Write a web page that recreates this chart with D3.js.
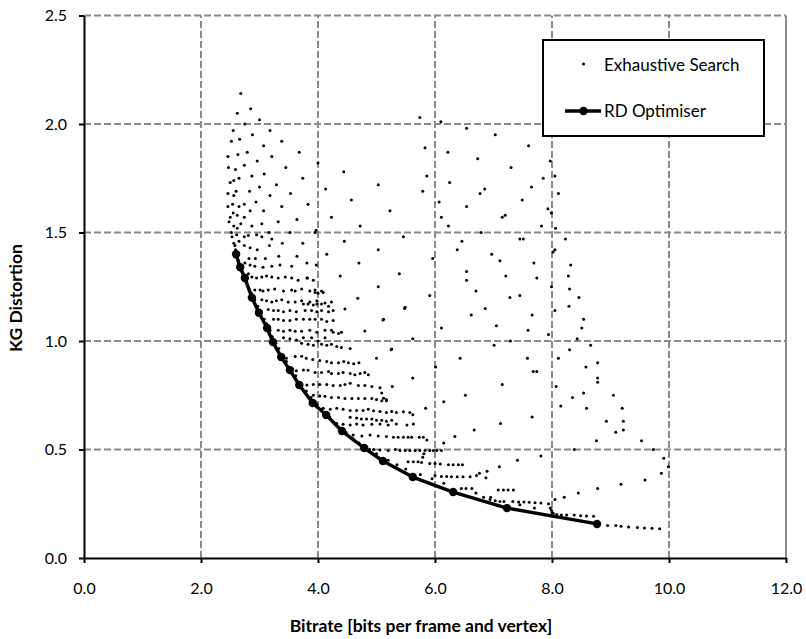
<!DOCTYPE html>
<html>
<head>
<meta charset="utf-8">
<script src="https://cdn.jsdelivr.net/npm/d3@7"></script>
<style>
  body { margin: 0; background: #fff; }
  svg { display: block; }
  text { font-family: Lato, "Open Sans", sans-serif; fill: #000; }
</style>
</head>
<body>
<svg id="chart" width="806" height="639"></svg>
<script>
// ---- RD Optimiser operating points (bitrate, KG distortion) ----
const rdBitrate = [2.60, 2.67, 2.75, 2.87, 2.99, 3.13, 3.23, 3.37, 3.52, 3.68, 3.91, 4.14, 4.41, 4.79, 5.11, 5.62, 6.31, 7.23, 8.77];
const rdDistortion = [1.40, 1.34, 1.29, 1.20, 1.13, 1.06, 0.995, 0.926, 0.866, 0.797, 0.714, 0.659, 0.585, 0.507, 0.447, 0.373, 0.304, 0.230, 0.157];

// ---- Exhaustive search results, [bitrate, distortion] ----
const searchHighLeft = [
  [2.68,2.14],[2.85,2.07],[2.62,2.05],[3.00,2.02],[2.75,2.00],[2.55,1.97],[2.88,1.95],[3.18,1.97],[2.66,1.93],[2.52,1.92],
  [3.38,1.92],[3.07,1.90],[2.79,1.87],[3.68,1.87],[2.46,1.85],[2.63,1.86],[3.21,1.85],[2.96,1.83],[4.00,1.82],[2.47,1.80],
  [2.59,1.79],[2.74,1.81],[3.45,1.80],[3.08,1.77],[2.87,1.76],[2.65,1.75],[3.74,1.75],[2.50,1.73],[2.56,1.74],[3.29,1.72],
  [3.00,1.71],[2.83,1.69],[2.60,1.69],[2.46,1.68],[3.53,1.68],[2.56,1.67],[3.18,1.67],[2.94,1.64],[2.74,1.63],[2.46,1.62],
  [2.54,1.63],[2.65,1.62],[3.38,1.62],[3.83,1.63],[2.84,1.60],[3.07,1.60],[2.55,1.59],[2.50,1.57],[2.62,1.58],[2.74,1.57],
  [3.32,1.55],[3.64,1.56],[2.48,1.55],[2.56,1.53],[2.68,1.54],[2.87,1.53],[3.04,1.54],[2.62,1.52],[3.97,1.51],[2.52,1.50],
  [3.16,1.50],[3.52,1.50],[2.61,1.49],[2.74,1.48],[2.95,1.49],[2.53,1.48],[3.74,1.45],[3.39,1.45],[2.56,1.45],[2.65,1.46],
  [2.74,1.44],[2.84,1.43],[3.17,1.44],[2.96,1.42],[2.59,1.42],[3.64,1.39],[3.33,1.39],[3.10,1.38],[2.93,1.38],[2.82,1.38],
  [2.81,1.486],[3.04,1.48],[3.21,1.47],[3.95,1.50],
  [4.44,1.78],[5.03,1.72],[4.13,1.70],[4.57,1.65],[4.23,1.57],[4.72,1.53],[4.45,1.46],[4.15,1.40],[5.03,1.42],[4.70,1.36],
  [4.38,1.30],[3.97,1.35],[3.82,1.29],[5.03,1.25],[4.68,1.197]
];

const searchHighRight = [
  [5.74,2.03],[6.10,2.01],[6.54,1.98],[7.03,1.95],[5.83,1.89],[6.22,1.87],[7.60,1.90],[6.73,1.84],[7.30,1.80],[7.97,1.83],
  [5.86,1.76],[6.25,1.73],[7.85,1.75],[8.05,1.76],[5.79,1.69],[6.85,1.70],[6.77,1.68],[7.65,1.71],[8.11,1.68],[7.49,1.65],
  [5.23,1.60],[6.07,1.64],[6.54,1.62],[7.93,1.61],[7.99,1.59],[7.15,1.57],[7.20,1.58],[6.11,1.57],[6.23,1.53],[7.82,1.53],
  [8.06,1.52],[6.79,1.50],[5.46,1.48],[6.46,1.46],[7.45,1.47],[7.51,1.47],[8.23,1.47],[6.38,1.42],[6.97,1.40],[8.05,1.42],
  [8.02,1.41],[5.96,1.38],[7.11,1.37],[7.69,1.36],[8.32,1.35],[5.39,1.31],[6.54,1.32],[7.21,1.30],[7.74,1.29],[8.28,1.30],
  [6.54,1.28],[7.99,1.25],[5.91,1.21],[6.70,1.23],[7.28,1.20],[7.45,1.21],[8.30,1.24],[8.46,1.20],[5.48,1.15],[6.86,1.15],
  [8.05,1.14],[8.29,1.16],[5.12,1.10],[6.62,1.12],[7.66,1.12],[8.54,1.10],[8.51,1.06],[6.11,1.06],[7.05,1.07],[7.59,1.05],
  [7.94,1.03],[5.62,1.01],[7.29,1.00],[8.43,1.01],[5.25,0.96],[7.01,0.98],[8.66,0.98],[8.30,0.96],[6.43,0.92],[7.58,0.92],
  [8.11,0.92],[8.58,0.88],[8.78,0.90],[6.01,0.88],[5.62,0.83],[7.68,0.86],[7.74,0.86],[8.78,0.83],[8.78,0.81],[5.27,0.79],
  [7.15,0.80],[8.07,0.79],
  [4.46,1.147],[5.49,1.155],[5.11,1.097],[4.80,1.046],[5.26,0.963],[5.00,0.92],
  [6.52,0.75],[8.35,0.74],[8.54,0.76],[9.05,0.75],[6.15,0.72],[8.15,0.70],[8.59,0.69],[9.20,0.69],[5.84,0.69],[5.62,0.66],
  [7.66,0.65],[7.12,0.62],[8.93,0.63],[9.22,0.63],[6.67,0.59],[9.09,0.58],[9.22,0.59],[6.34,0.56],[6.15,0.53],[8.76,0.54],
  [8.38,0.50],[7.81,0.47],[7.41,0.45],[7.10,0.42],[6.89,0.40],[6.87,0.37],[8.78,0.32],[9.18,0.34],[8.45,0.30],[8.21,0.28],
  [8.05,0.27],[9.53,0.54],[9.73,0.50],[9.91,0.46],[9.99,0.42],[9.87,0.39],[9.59,0.36],
  [5.12,0.736],[5.17,0.73],[5.09,0.76],[5.86,0.544]
];

const searchBand = [
  // 1.35 .. 1.00
  [2.75,1.36],[2.84,1.35],[2.92,1.345],[3.06,1.34],[3.21,1.345],[3.35,1.35],[3.55,1.345],[3.81,1.36],
  [2.81,1.31],[2.87,1.295],[2.95,1.29],[3.04,1.295],[3.12,1.30],[3.21,1.295],[3.32,1.29],[3.44,1.295],[3.55,1.29],[3.66,1.28],[3.81,1.29],[3.92,1.28],
  [2.92,1.235],[3.01,1.235],[3.06,1.23],[3.15,1.235],[3.26,1.24],[3.41,1.23],[3.55,1.235],[3.61,1.23],[3.72,1.24],[3.86,1.23],[3.95,1.235],[4.06,1.23],
  [3.95,1.224],[4.00,1.22],[4.09,1.224],
  [3.04,1.19],[3.12,1.185],[3.21,1.18],[3.29,1.185],[3.38,1.19],[3.49,1.18],[3.61,1.18],[3.72,1.185],[3.86,1.18],[3.98,1.185],[4.12,1.175],[4.23,1.18],
  [3.75,1.17],[3.83,1.17],[3.92,1.166],[3.98,1.17],[4.06,1.17],[4.18,1.16],
  [3.15,1.145],[3.24,1.14],[3.32,1.14],[3.41,1.135],[3.52,1.14],[3.63,1.135],[3.78,1.14],[3.89,1.14],[3.98,1.135],[4.06,1.14],[4.18,1.135],[4.26,1.14],
  [3.24,1.10],[3.32,1.10],[3.41,1.095],[3.52,1.095],[3.63,1.10],[3.75,1.10],[3.86,1.10],[3.95,1.10],[4.06,1.10],[4.15,1.09],[4.26,1.095],
  [3.32,1.05],[3.41,1.045],[3.52,1.05],[3.61,1.045],[3.72,1.045],[3.86,1.05],[3.98,1.04],[4.12,1.05],[4.23,1.05],[4.26,1.04],[4.35,1.035],[4.40,1.04],
  [3.41,1.015],[3.52,1.01],[3.63,1.005],[3.75,1.015],[3.89,1.015],[4.00,1.00],[4.12,1.015],
  // 0.99 .. 0.60
  [3.72,0.99],[3.83,0.985],[3.92,0.98],[4.06,0.985],[4.15,0.98],[4.23,0.985],[4.32,0.975],[4.40,0.97],[4.55,0.966],
  [3.35,0.928],[3.46,0.92],[3.61,0.928],
  [3.72,0.93],[3.80,0.92],[3.91,0.915],[4.03,0.91],[4.15,0.905],[4.23,0.90],[4.35,0.90],[4.44,0.905],[4.52,0.90],[4.61,0.895],[4.70,0.90],
  [3.52,0.866],[3.63,0.863],[3.75,0.866],
  [3.83,0.865],[3.95,0.855],[4.06,0.855],[4.18,0.86],[4.23,0.85],[4.35,0.85],[4.43,0.855],[4.55,0.85],[4.63,0.845],[4.72,0.85],[4.80,0.855],[4.86,0.845],
  [3.69,0.80],[3.81,0.797],[3.92,0.80],
  [4.03,0.80],[4.15,0.80],[4.26,0.795],[4.38,0.795],[4.46,0.80],[4.55,0.805],[4.69,0.795],[4.80,0.795],[4.92,0.79],[5.06,0.785],
  [3.92,0.75],[4.03,0.747],
  [4.12,0.745],[4.23,0.74],[4.35,0.74],[4.46,0.735],[4.58,0.735],[4.69,0.735],[4.80,0.735],[4.92,0.735],[5.00,0.73],[5.09,0.725],[5.17,0.725],
  [4.09,0.69],[4.21,0.685],
  [4.32,0.69],[4.43,0.685],[4.55,0.68],[4.66,0.68],[4.77,0.68],[4.86,0.685],[4.95,0.678],[5.06,0.675],[5.17,0.67],[5.26,0.675],[5.34,0.67],[5.46,0.674],[5.57,0.67],
  [4.55,0.649],[4.66,0.645],[4.74,0.64],[4.83,0.64],[4.92,0.64],[5.00,0.635],[5.09,0.635],[5.17,0.63],[5.26,0.635],
  [4.32,0.62],[4.43,0.616],[4.55,0.613],[4.66,0.617],[4.77,0.613],[4.92,0.616],[5.06,0.617],[5.20,0.613],[5.34,0.617],[5.52,0.613],[5.63,0.617],
  // 0.57 .. 0.25
  [4.60,0.567],[4.75,0.562],[4.89,0.567],[5.03,0.562],
  [5.17,0.56],[5.29,0.556],[5.37,0.556],[5.46,0.556],[5.54,0.556],[5.60,0.556],[5.73,0.556],[5.80,0.556],
  [4.95,0.50],[5.06,0.498],[5.20,0.495],
  [5.32,0.50],[5.40,0.495],[5.49,0.495],[5.57,0.495],[5.66,0.495],[5.74,0.495],[5.83,0.495],[5.91,0.495],[5.97,0.495],[6.03,0.495],[6.11,0.495],
  [5.54,0.444],[5.63,0.444],[5.71,0.444],[5.77,0.44],[5.79,0.464],[5.81,0.48],
  [5.91,0.436],[6.00,0.436],[6.09,0.433],[6.23,0.43],[6.31,0.43],[6.40,0.43],[6.47,0.43],
  [6.00,0.38],[6.11,0.376],[6.20,0.376],[6.28,0.375],[6.38,0.375],[6.48,0.375],[6.60,0.375],[6.71,0.38],[6.76,0.39],
  [6.53,0.32],[6.63,0.32],[7.08,0.313],[7.17,0.313],[7.25,0.313],[7.34,0.313],
  [6.83,0.28],[6.94,0.27],[7.03,0.264],[7.11,0.26],[7.18,0.26],
  [7.33,0.26],[7.43,0.258],[7.52,0.258],[7.61,0.257],[7.71,0.255],[7.81,0.253],
  [7.94,0.25],[7.97,0.23],[7.99,0.22],[8.02,0.206],[8.08,0.20],[8.16,0.198]
];

const searchTail = [
  [8.25,0.198],[8.38,0.198],[8.49,0.195],[8.59,0.194],[8.71,0.192],
  [8.95,0.15],[9.09,0.15],[9.18,0.146],[9.31,0.143],[9.46,0.14],[9.58,0.138],[9.71,0.137],[9.84,0.135]
];

// points lying just above the optimiser frontier
const searchFrontier = [
  [2.58,1.44],[2.62,1.38],[2.64,1.36],[2.70,1.32],[2.73,1.30],[2.78,1.27],[2.82,1.24],[2.86,1.22],[2.92,1.19],[2.97,1.16],
  [3.02,1.13],[3.08,1.10],[3.12,1.08],[3.18,1.05],[3.22,1.02],[3.28,0.99],[3.33,0.965],[3.40,0.935],[3.46,0.905],[3.55,0.87],
  [3.62,0.84],[3.72,0.80],[3.80,0.77],[3.88,0.74],[3.98,0.71],[4.06,0.685],[4.20,0.65],[4.30,0.62],[4.48,0.58],[4.60,0.55],
  [4.70,0.53],[4.88,0.50],[5.00,0.48],[5.20,0.45],[5.35,0.43],[5.50,0.41],[5.75,0.385],[5.95,0.365],[6.15,0.345],[6.45,0.32],
  [6.70,0.30],[6.95,0.28],[7.45,0.245],[7.70,0.23],[8.00,0.21]
];

const xTicks = [0, 2, 4, 6, 8, 10, 12];
const yTicks = [0, 0.5, 1.0, 1.5, 2.0, 2.5];
const xTitle = "Bitrate [bits per frame and vertex]";
const yTitle = "KG Distortion";
const legendLabels = ["Exhaustive Search", "RD Optimiser"];

// ---- drawing ----
const svg = d3.select("#chart");
const x = d3.scaleLinear().domain([0, 12]).range([84, 786]);
const y = d3.scaleLinear().domain([0, 2.5]).range([558, 15.5]);

const gridColor = "#8a8a8a";
const grid = svg.append("g");
grid.selectAll("line.vx").data(xTicks.filter(d => d > 0 && d < 12)).join("line")
  .attr("x1", d => x(d)).attr("x2", d => x(d))
  .attr("y1", y(0)).attr("y2", y(2.5))
  .attr("stroke", gridColor).attr("stroke-width", 2).attr("stroke-dasharray", "7,3");
grid.selectAll("line.hy").data(yTicks.filter(d => d > 0)).join("line")
  .attr("x1", x(0)).attr("x2", x(12))
  .attr("y1", d => y(d)).attr("y2", d => y(d))
  .attr("stroke", gridColor).attr("stroke-width", 2).attr("stroke-dasharray", "7,3");
// right edge of plot area
grid.append("line")
  .attr("x1", x(12)).attr("x2", x(12)).attr("y1", y(0)).attr("y2", y(2.5))
  .attr("stroke", gridColor).attr("stroke-width", 2);

// exhaustive search dots
const allSearch = [].concat(searchHighLeft, searchHighRight, searchBand, searchTail, searchFrontier);
svg.append("g").selectAll("circle").data(allSearch).join("circle")
  .attr("cx", d => x(d[0])).attr("cy", d => y(d[1]))
  .attr("r", 1.5).attr("fill", "#000");

// optimiser curve
const rdPoints = rdBitrate.map((b, i) => [b, rdDistortion[i]]);
svg.append("path").datum(rdPoints)
  .attr("fill", "none").attr("stroke", "#000").attr("stroke-width", 3.4)
  .attr("stroke-linejoin", "round")
  .attr("d", d3.line().x(d => x(d[0])).y(d => y(d[1])));
svg.append("g").selectAll("circle").data(rdPoints).join("circle")
  .attr("cx", d => x(d[0])).attr("cy", d => y(d[1]))
  .attr("r", 4.2).attr("fill", "#000");

// axes
const fmt = d3.format(".1f");
const xAxis = svg.append("g").attr("transform", `translate(0,${y(0)})`)
  .call(d3.axisBottom(x).tickValues(xTicks).tickFormat(fmt).tickSize(5).tickSizeOuter(0).tickPadding(20));
const yAxis = svg.append("g").attr("transform", `translate(${x(0)},0)`)
  .call(d3.axisLeft(y).tickValues(yTicks).tickFormat(fmt).tickSize(5).tickSizeOuter(0).tickPadding(12));
[xAxis, yAxis].forEach(a => {
  a.select(".domain").attr("stroke", "#000").attr("stroke-width", 2);
  a.selectAll(".tick line").attr("stroke", "#000").attr("stroke-width", 2);
  a.selectAll(".tick text").attr("font-size", 16).attr("font-family", "Lato, 'Open Sans', sans-serif").attr("fill", "#000");
});

// axis titles
svg.append("text").attr("x", 421).attr("y", 632).attr("text-anchor", "middle")
  .attr("font-size", 17.5).attr("font-weight", "bold").text(xTitle);
svg.append("text").attr("transform", "translate(22,298) rotate(-90)").attr("text-anchor", "middle")
  .attr("font-size", 17.5).attr("font-weight", "bold").text(yTitle);

// legend
const lg = svg.append("g");
lg.append("rect").attr("x", 543).attr("y", 40).attr("width", 221).attr("height", 96)
  .attr("fill", "#fff").attr("stroke", "#000").attr("stroke-width", 2);
lg.append("circle").attr("cx", 583.5).attr("cy", 64).attr("r", 1.5).attr("fill", "#000");
lg.append("text").attr("x", 604).attr("y", 71).attr("font-size", 17).text(legendLabels[0]);
lg.append("line").attr("x1", 565).attr("x2", 601).attr("y1", 111).attr("y2", 111)
  .attr("stroke", "#000").attr("stroke-width", 3.4);
lg.append("circle").attr("cx", 583.5).attr("cy", 111).attr("r", 4.2).attr("fill", "#000");
lg.append("text").attr("x", 604).attr("y", 117).attr("font-size", 17).text(legendLabels[1]);
</script>
</body>
</html>
